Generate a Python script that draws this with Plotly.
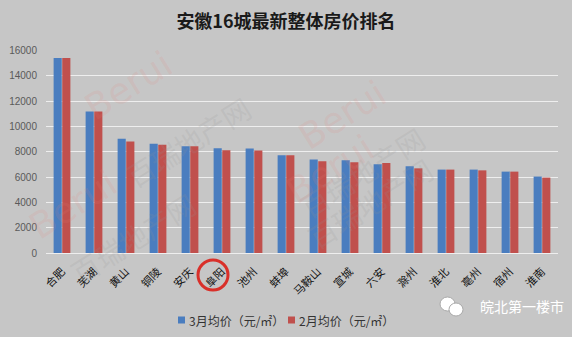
import plotly.graph_objects as go

# City ranking of average housing prices, Anhui province (yuan per m²)
cities = ["合肥", "芜湖", "黄山", "铜陵", "安庆", "阜阳", "池州", "蚌埠",
          "马鞍山", "宣城", "六安", "滁州", "淮北", "亳州", "宿州", "淮南"]
march_prices = [15400, 11190, 9030, 8640, 8430, 8270, 8250, 7720,
                7380, 7320, 7010, 6850, 6590, 6590, 6430, 6040]
feb_prices = [15400, 11190, 8820, 8560, 8430, 8110, 8090, 7720,
              7250, 7170, 7120, 6690, 6590, 6530, 6430, 5960]
series_names = ["3月均价（元/㎡）", "2月均价（元/㎡）"]
series_colors = ["#4a7dbf", "#c0504d"]
y_ticks = [0, 2000, 4000, 6000, 8000, 10000, 12000, 14000, 16000]

W, H = 572, 337
ML, MR, MT, MB = 46, 14, 50, 84
FONT = "Noto Sans CJK SC"
BG = "#c6c6c6"


def px(x):
    return (x - ML) / (W - ML - MR)


def py(y):
    return (H - MB - y) / (H - MT - MB)


fig = go.Figure()
for name, vals, col in zip(series_names, [march_prices, feb_prices], series_colors):
    fig.add_trace(go.Bar(x=cities, y=vals, name=name, showlegend=False,
                         marker=dict(color=col, line=dict(width=0))))

anns = []
shapes = []

# faint tiled site watermark
for cx, cy in [(75, 40), (395, 70), (20, 250), (330, 215)]:
    anns.append(dict(x=px(cx), y=py(cy), text="Berui", showarrow=False,
                     font=dict(family="DejaVu Sans", size=36,
                               color="rgba(230,130,120,0.14)"),
                     textangle=-32, xref="paper", yref="paper"))
    anns.append(dict(x=px(cx + 40), y=py(cy + 45), text="百瑞地产网", showarrow=False,
                     font=dict(family=FONT, size=28, color="rgba(150,150,150,0.18)"),
                     textangle=-32, xref="paper", yref="paper"))

# legend row at the bottom
legend_x = [178, 288]
for lx, name, col in zip(legend_x, series_names, series_colors):
    shapes.append(dict(type="rect", xref="paper", yref="paper",
                       x0=px(lx), x1=px(lx + 7), y0=py(316.5), y1=py(323.5),
                       fillcolor=col, line=dict(width=0)))
    anns.append(dict(x=px(lx + 9), y=py(320), xanchor="left", yanchor="middle",
                     text=name, showarrow=False, xref="paper", yref="paper",
                     font=dict(family=FONT, size=12, color="#333333")))

# account name, bottom right
anns.append(dict(x=px(478), y=py(306), xanchor="left", yanchor="middle",
                 text="皖北第一楼市", showarrow=False,
                 font=dict(family=FONT, size=14, color="#ffffff"),
                 xref="paper", yref="paper"))

shapes += [
    # circle around 阜阳
    dict(type="circle", xref="paper", yref="paper",
         x0=px(198), x1=px(228), y0=py(260), y1=py(290),
         line=dict(color="#d9302a", width=3)),
    # chat bubbles icon
    dict(type="circle", xref="paper", yref="paper",
         x0=px(440), x1=px(455), y0=py(297), y1=py(311),
         fillcolor="#ffffff", line=dict(color="#aaaaaa", width=1)),
    dict(type="circle", xref="paper", yref="paper",
         x0=px(449), x1=px(463), y0=py(303), y1=py(316),
         fillcolor="#ffffff", line=dict(color="#aaaaaa", width=1)),
]

fig.update_layout(
    width=W, height=H,
    margin=dict(l=ML, r=MR, t=MT, b=MB, pad=0, autoexpand=False),
    paper_bgcolor=BG, plot_bgcolor=BG,
    font=dict(family=FONT, color="#222222"),
    title=dict(text="<b>安徽16城最新整体房价排名</b>", x=0.5, xanchor="center",
               y=1 - 22 / H, yanchor="middle",
               font=dict(family=FONT, size=18, color="#1a1a1a")),
    barmode="group", bargap=0.46, bargroupgap=0.06,
    showlegend=False,
    xaxis=dict(tickangle=-45, tickfont=dict(family=FONT, size=11, color="#111111"),
               showgrid=False, showline=False, ticks="outside", ticklen=7,
               tickcolor="rgba(0,0,0,0)", automargin=False),
    yaxis=dict(range=[0, 16040], tickvals=y_ticks, ticktext=[str(v) for v in y_ticks],
               tickfont=dict(family="Liberation Sans, Arial", size=10, color="#5a5a5a"),
               showgrid=True, gridcolor="#eeeeee", gridwidth=1,
               zeroline=True, zerolinecolor="#eeeeee", zerolinewidth=1,
               showline=False, ticks="", ticklabelstandoff=8, automargin=False),
    annotations=anns,
    shapes=shapes,
)

fig.write_html("out.html")
